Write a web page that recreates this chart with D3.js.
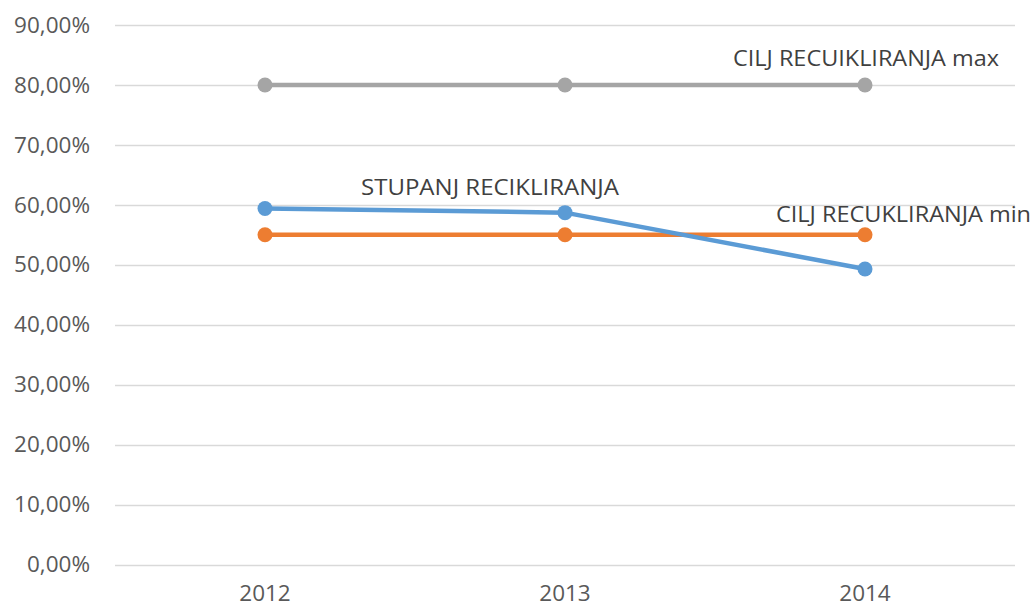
<!DOCTYPE html>
<html>
<head>
<meta charset="utf-8">
<script src="https://cdn.jsdelivr.net/npm/d3@7"></script>
<style>
  body { margin: 0; background: #fff; }
  svg { display: block; font-family: "Open Sans", sans-serif; }
</style>
</head>
<body>
<div id="chart"></div>
<script>
const years = ["2012", "2013", "2014"];
const seriesNames = ["STUPANJ RECIKLIRANJA", "CILJ RECUKLIRANJA min", "CILJ RECUIKLIRANJA max"];
const stupanj = [0.594, 0.587, 0.493];
const ciljMin = [0.55, 0.55, 0.55];
const ciljMax = [0.80, 0.80, 0.80];
const yTicks = [0, 0.1, 0.2, 0.3, 0.4, 0.5, 0.6, 0.7, 0.8, 0.9];

(function () {
  const width = 1032;
  const height = 610;
  const margin = { top: 25, right: 17, bottom: 45.5, left: 115 };

  const svg = d3
    .select("#chart")
    .append("svg")
    .attr("width", width)
    .attr("height", height);

  const g = svg
    .append("g")
    .attr("transform", `translate(${margin.left},${margin.top})`);

  const innerW = width - margin.left - margin.right;
  const innerH = height - margin.top - margin.bottom;

  const xScale = d3.scaleBand().domain(years).range([0, innerW]);
  const yScale = d3.scaleLinear().domain([0, 0.9]).range([innerH, 0]);
  const cx = (d) => xScale(d) + xScale.bandwidth() / 2;

  const fmt = (v) => d3.format(".2f")(v * 100).replace(".", ",") + "%";

  // grid
  g.append("g")
    .selectAll("line")
    .data(yTicks)
    .enter()
    .append("line")
    .attr("x1", 0)
    .attr("x2", innerW)
    .attr("y1", (d) => Math.round(yScale(d)) + 0.5)
    .attr("y2", (d) => Math.round(yScale(d)) + 0.5)
    .attr("stroke", "#d9d9d9")
    .attr("stroke-width", 1.5);

  // y axis labels
  const yAxis = g
    .append("g")
    .call(d3.axisLeft(yScale).tickValues(yTicks).tickFormat(fmt).tickSize(0).tickPadding(25));
  yAxis.select(".domain").remove();
  yAxis
    .selectAll(".tick text")
    .attr("font-size", "22.5px")
    .attr("fill", "#595959")
    .attr("font-family", "'Open Sans', sans-serif");

  // x axis labels
  const xAxis = g
    .append("g")
    .attr("transform", `translate(0,${innerH})`)
    .call(d3.axisBottom(xScale).tickSize(0).tickPadding(21));
  xAxis.select(".domain").remove();
  xAxis
    .selectAll(".tick text")
    .attr("font-size", "22.5px")
    .attr("fill", "#595959")
    .attr("font-family", "'Open Sans', sans-serif");

  const series = [
    { name: seriesNames[2], values: ciljMax, color: "#a5a5a5", labelAt: 2, dx: -132, dy: -19, len: 266 },
    { name: seriesNames[1], values: ciljMin, color: "#ed7d31", labelAt: 2, dx: -89, dy: -13, len: 255 },
    { name: seriesNames[0], values: stupanj, color: "#5b9bd5", labelAt: 0, dx: 96, dy: -13, len: 258 },
  ];

  const line = d3
    .line()
    .x((d) => cx(d.year))
    .y((d) => yScale(d.value));

  series.forEach((s) => {
    const pts = years.map((y, i) => ({ year: y, value: s.values[i] }));
    g.append("path")
      .datum(pts)
      .attr("fill", "none")
      .attr("stroke", s.color)
      .attr("stroke-width", 4.5)
      .attr("stroke-linejoin", "round")
      .attr("d", line);
    g.append("g")
      .selectAll("circle")
      .data(pts)
      .enter()
      .append("circle")
      .attr("cx", (d) => cx(d.year))
      .attr("cy", (d) => yScale(d.value))
      .attr("r", 7.5)
      .attr("fill", s.color);
    g.append("text")
      .attr("x", cx(years[s.labelAt]) + s.dx)
      .attr("y", yScale(s.values[s.labelAt]) + s.dy)
      .attr("text-anchor", "start")
      .attr("font-size", "22px")
      .attr("textLength", s.len)
      .attr("lengthAdjust", "spacingAndGlyphs")
      .attr("fill", "#404040")
      .text(s.name);
  });
})();
</script>
</body>
</html>
